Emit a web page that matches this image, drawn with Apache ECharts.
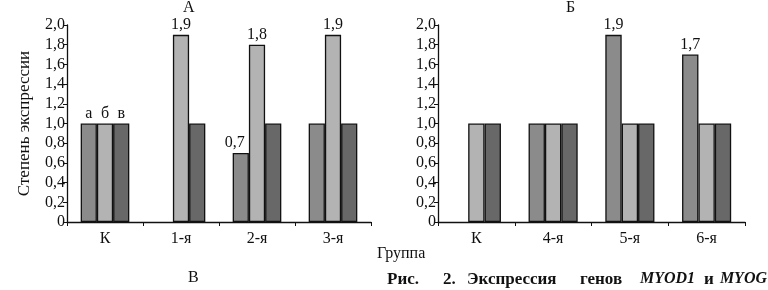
<html>
<head>
    <meta charset="UTF-8">
    <title>Экспрессия генов</title>
    <script src="https://cdn.jsdelivr.net/npm/echarts@6/dist/echarts.min.js"></script>
    <style>
        body { margin: 0; background: #fff; }
    </style>
</head>
<body>
<div id="main" style="width: 768px;height:290px;"></div>
<script>
    // данные
    var categoriesA = ['К', '1-я', '2-я', '3-я'];
    var categoriesB = ['К', '4-я', '5-я', '6-я'];
    var seriesNames = ['а', 'б', 'в'];
    var valuesA_a = [1, null, 0.7, 1];
    var valuesA_b = [1, 1.9, 1.8, 1.9];
    var valuesA_v = [1, 1, 1, 1];
    var valuesB_a = [null, 1, 1.9, 1.7];
    var valuesB_b = [1, 1, 1, 1];
    var valuesB_v = [1, 1, 1, 1];

    var colors = ['#8b8b8b', '#b3b3b3', '#686868'];
    var font = '"Liberation Serif", "DejaVu Serif", serif';

    function fmt(v) {
        if (v === 0) return '0';
        return v.toFixed(1).replace('.', ',');
    }

    function makeSeries(name, values, idx, axisIdx, letterOnFirst) {
        return {
            type: 'bar',
            name: name,
            xAxisIndex: axisIdx,
            yAxisIndex: axisIdx,
            data: values.map(function (v) {
                // подпись 0,7 сдвинута влево
                if (v === 0.7) return { value: v, label: { offset: [-6, 0] } };
                return v;
            }),
            barGap: 0,
            barCategoryGap: '36%',
            itemStyle: { color: colors[idx], borderColor: '#111', borderWidth: 1.3 },
            label: {
                show: true,
                position: 'top',
                distance: 2,
                color: '#111',
                fontFamily: font,
                fontSize: 16,
                formatter: function (p) {
                    if (letterOnFirst && p.dataIndex === 0) return name;
                    if (p.value == null || p.value === 1) return '';
                    return fmt(p.value);
                }
            }
        };
    }

    var yAxisCommon = {
        type: 'value',
        min: 0,
        max: 2,
        interval: 0.2,
        splitLine: { show: false },
        axisLine: { show: true, lineStyle: { color: '#111', width: 1.3 } },
        axisTick: { show: true, length: 4, lineStyle: { color: '#111' } },
        axisLabel: { color: '#111', fontFamily: font, fontSize: 16, margin: 2, formatter: fmt }
    };
    var xAxisCommon = {
        type: 'category',
        axisLine: { lineStyle: { color: '#111', width: 1.3 } },
        axisTick: { show: true, length: 4, lineStyle: { color: '#111' } },
        axisLabel: { color: '#111', fontFamily: font, fontSize: 16, margin: 9 }
    };

    var myChart = echarts.init(document.getElementById('main'));
    var option = {
        animation: false,
        grid: [
            { left: 67, right: 397, top: 25, bottom: 68 },
            { left: 438, right: 23, top: 25, bottom: 68 }
        ],
        xAxis: [
            Object.assign({ gridIndex: 0, data: categoriesA }, xAxisCommon),
            Object.assign({ gridIndex: 1, data: categoriesB }, xAxisCommon)
        ],
        yAxis: [
            Object.assign({
                gridIndex: 0,
                name: 'Степень экспрессии',
                nameLocation: 'middle',
                nameGap: 34,
                nameTextStyle: { color: '#111', fontFamily: font, fontSize: 17 }
            }, yAxisCommon),
            Object.assign({ gridIndex: 1 }, yAxisCommon)
        ],
        series: [
            makeSeries(seriesNames[0], valuesA_a, 0, 0, true),
            makeSeries(seriesNames[1], valuesA_b, 1, 0, true),
            makeSeries(seriesNames[2], valuesA_v, 2, 0, true),
            makeSeries(seriesNames[0], valuesB_a, 0, 1, false),
            makeSeries(seriesNames[1], valuesB_b, 1, 1, false),
            makeSeries(seriesNames[2], valuesB_v, 2, 1, false)
        ],
        graphic: [
            { type: 'text', left: 183, top: 0, style: { text: 'А', font: '16px ' + font, fill: '#111' } },
            { type: 'text', left: 566, top: 0, style: { text: 'Б', font: '16px ' + font, fill: '#111' } },
            { type: 'text', left: 377, top: 246, style: { text: 'Группа', font: '16px ' + font, fill: '#111' } },
            { type: 'text', left: 188, top: 270, style: { text: 'В', font: '16px ' + font, fill: '#111' } },
            // подпись рисунка, слова разнесены по ширине
            { type: 'text', left: 387, top: 271, style: { text: 'Рис.', font: 'bold 17px ' + font, fill: '#111' } },
            { type: 'text', left: 443, top: 271, style: { text: '2.', font: 'bold 17px ' + font, fill: '#111' } },
            { type: 'text', left: 467, top: 271, style: { text: 'Экспрессия', font: 'bold 17px ' + font, fill: '#111' } },
            { type: 'text', left: 580, top: 271, style: { text: 'генов', font: 'bold 17px ' + font, fill: '#111' } },
            { type: 'text', left: 640, top: 271, style: { text: 'MYOD1', font: 'italic bold 16px ' + font, fill: '#111' } },
            { type: 'text', left: 704, top: 271, style: { text: 'и', font: 'bold 17px ' + font, fill: '#111' } },
            { type: 'text', right: 1, top: 271, style: { text: 'MYOG', font: 'italic bold 16px ' + font, fill: '#111' } }
        ]
    };
    myChart.setOption(option);
</script>
</body>
</html>
